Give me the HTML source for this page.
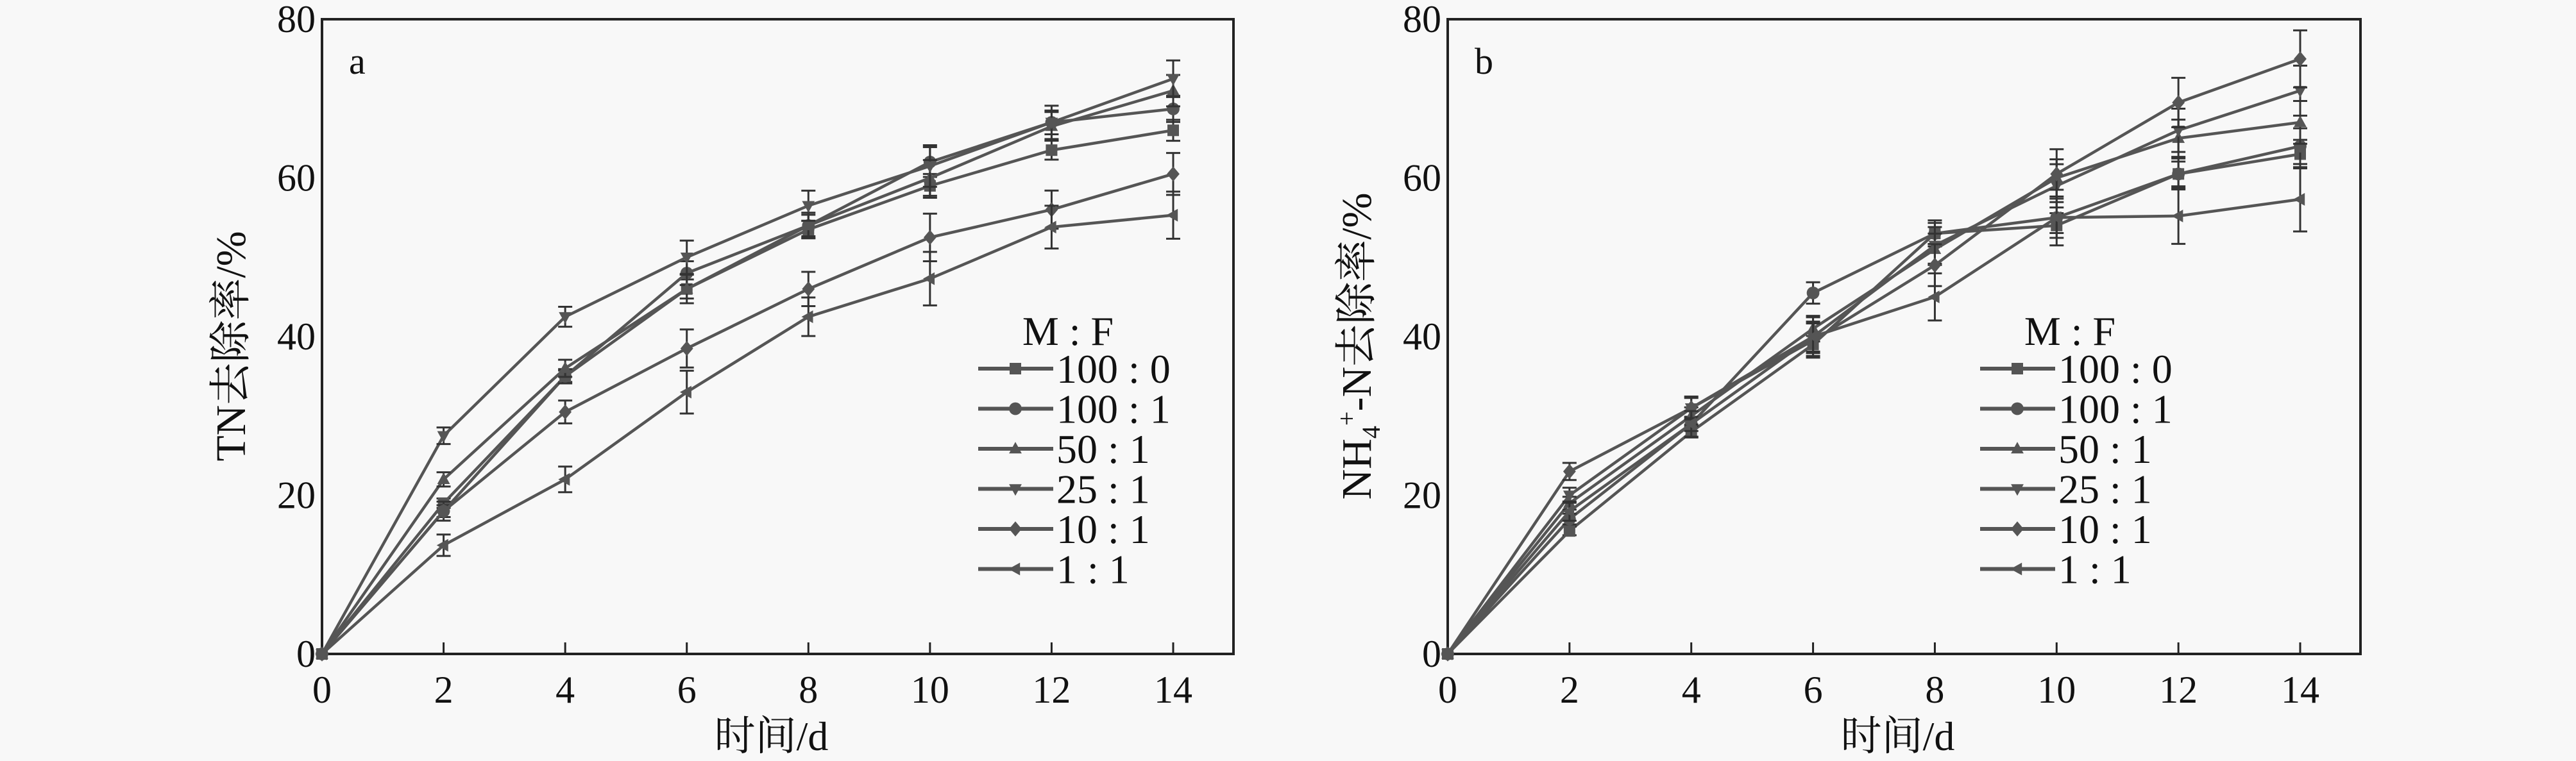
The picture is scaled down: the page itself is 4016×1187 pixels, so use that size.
<!DOCTYPE html>
<html><head><meta charset="utf-8"><style>
html,body{margin:0;padding:0;background:#f8f8f8;}
svg{display:block;}
text{font-family:"Liberation Serif","Noto Serif CJK SC",serif;fill:#111;}
</style></head><body>
<svg id="chart" width="4016" height="1187" viewBox="0 0 4016 1187" xmlns="http://www.w3.org/2000/svg">
<rect width="4016" height="1187" fill="#f8f8f8"/>
<g id="pa"></g>
<g id="pb"></g>
</svg>
<script>
const days = [0, 2, 4, 6, 8, 10, 12, 14];
const seriesNames = ["100:0", "100:1", "50:1", "25:1", "10:1", "1:1"];
const legendLabels = ["100 : 0", "100 : 1", "50 : 1", "25 : 1", "10 : 1", "1 : 1"];
const markers = ["square", "circle", "up", "down", "diamond", "left"];
const xTicks = [0, 2, 4, 6, 8, 10, 12, 14];
const yTicks = [0, 20, 40, 60, 80];
// Panel a: TN removal
const tn_100_0 = [0, 19, 35, 46, 53.5, 59, 63.5, 66];
const tn_100_1 = [0, 18, 35, 48, 54, 62, 67, 68.7];
const tn_50_1 = [0, 22, 36, 46, 54, 60, 66.5, 71];
const tn_25_1 = [0, 27.5, 42.5, 50, 56.5, 61.5, 67, 72.5];
const tn_10_1 = [0, 18, 30.5, 38.5, 46, 52.5, 56, 60.5];
const tn_1_1 = [0, 13.7, 22, 33, 42.5, 47.3, 53.8, 55.3];
const tnErr = [0, 1, 1.2, 2, 1.8, 2.5, 2, 2.2];
// Panel b: NH4+-N removal
const nh_100_0 = [0, 15.5, 28, 39, 53, 54, 60.5, 63];
const nh_100_1 = [0, 17, 29, 45.5, 53, 55, 60.5, 64];
const nh_50_1 = [0, 19, 30, 41, 51, 60, 65, 67];
const nh_25_1 = [0, 20, 31, 40, 51.5, 59, 66, 71];
const nh_10_1 = [0, 23, 31, 39.5, 49, 60.5, 69.5, 75];
const nh_1_1 = [0, 18, 29, 40, 45, 55, 55.2, 57.3];
const nhErr = [0, 0.9, 1.2, 1.8, 2.2, 2.6, 2.6, 3];

const NS = "http://www.w3.org/2000/svg";
function mk(parent, tag, attrs, txt) {
  const e = document.createElementNS(NS, tag);
  for (const k in attrs) e.setAttribute(k, attrs[k]);
  if (txt !== undefined) e.textContent = txt;
  parent.appendChild(e);
  return e;
}
function marker(g, type, cx, cy, s, col) {
  let el;
  if (type === "square") el = mk(g, "rect", {x: cx - s, y: cy - s, width: 2 * s, height: 2 * s, fill: col});
  else if (type === "circle") el = mk(g, "circle", {cx: cx, cy: cy, r: s * 1.1, fill: col});
  else {
    let p;
    if (type === "up") p = [[cx, cy - s * 1.2], [cx + s * 1.1, cy + s * 0.8], [cx - s * 1.1, cy + s * 0.8]];
    else if (type === "down") p = [[cx, cy + s * 1.2], [cx + s * 1.1, cy - s * 0.8], [cx - s * 1.1, cy - s * 0.8]];
    else if (type === "diamond") p = [[cx, cy - s * 1.3], [cx + s * 1.1, cy], [cx, cy + s * 1.3], [cx - s * 1.1, cy]];
    else p = [[cx - s * 1.2, cy], [cx + s * 0.8, cy - s * 1.1], [cx + s * 0.8, cy + s * 1.1]];
    el = mk(g, "polygon", {points: p.map(q => q.join(",")).join(" "), fill: col});
  }
  return el;
}

function panel(gid, L, R, x14, series, err, letter, ytitle, isB) {
  const g = document.getElementById(gid);
  const T = 30, B = 1020;
  const xs = v => L + v / 14 * (x14 - L);
  const ys = v => B - v / 80 * (B - T);
  const col = "#555";
  const frame = mk(g, "rect", {x: L, y: T, width: R - L, height: B - T, fill: "none", stroke: "#222", "stroke-width": 4});
  
  
  xTicks.forEach(t => {
    const tk = mk(g, "line", {x1: xs(t), x2: xs(t), y1: B, y2: B - 18, stroke: "#222", "stroke-width": 3});
    
    
    const lb = mk(g, "text", {x: xs(t), y: 1096, "font-size": 60, "text-anchor": "middle"}, String(t));
    
    
  });
  yTicks.forEach(t => {
    const lb = mk(g, "text", {x: L - 10, y: ys(t) + 20, "font-size": 60, "text-anchor": "end"}, String(t));
    
    
  });
  const xt = mk(g, "text", {x: (L + R) / 2 - 10, y: 1170, "font-size": 64, "text-anchor": "middle"}, "时间/d");
  
  
  const yt = mk(g, "text", {x: 0, y: 0, "font-size": 66, "text-anchor": "middle", transform: "translate(" + (L - 120) + ",540) rotate(-90)"});
  
  
  if (isB) {
    mk(yt, "tspan", {}, "NH");
    mk(yt, "tspan", {"font-size": 40, dy: 14}, "4");
    mk(yt, "tspan", {"font-size": 40, dy: -38}, "+");
    mk(yt, "tspan", {dy: 24}, "-N去除率/%");
  } else {
    yt.textContent = ytitle;
  }
  const lt = mk(g, "text", {x: L + 42, y: 115, "font-size": 58}, letter);
  
  

  series.forEach((d, i) => {
    const sg = mk(g, "g", {});
    
    
    const pts = d.map((v, j) => xs(days[j]) + "," + ys(v)).join(" ");
    const ln = mk(sg, "polyline", {points: pts, fill: "none", stroke: col, "stroke-width": 4.5});
    
    
    d.forEach((v, j) => {
      if (j > 0) {
        const e = err[j] * (0.6 + 0.15 * i);
        const eb = mk(sg, "path", {d: "M" + xs(days[j]) + "," + ys(v - e) + "V" + ys(v + e) + "M" + (xs(days[j]) - 11) + "," + ys(v - e) + "h22M" + (xs(days[j]) - 11) + "," + ys(v + e) + "h22", stroke: "#333", "stroke-width": 3, fill: "none"});
        
        
      }
      const m = marker(sg, markers[i], xs(days[j]), ys(v), 9, col);
      
      
    });
  });

  const lg = mk(g, "g", {});
  
  
  const lx = isB ? L + 830 : L + 1023;
  const ttl = mk(lg, "text", {x: lx + 140, y: 538, "font-size": 64, "text-anchor": "middle"}, "M : F");
  
  
  seriesNames.forEach((n, i) => {
    const y = 575 + i * 62.5;
    const eg = mk(lg, "g", {});
    
    
    mk(eg, "line", {x1: lx, x2: lx + 117, y1: y, y2: y, stroke: col, "stroke-width": 6});
    marker(eg, markers[i], lx + 58, y, 9, col);
    mk(eg, "text", {x: lx + 122, y: y + 22, "font-size": 64}, legendLabels[i]);
  });
}
panel("pa", 502, 1923, 1829, [tn_100_0, tn_100_1, tn_50_1, tn_25_1, tn_10_1, tn_1_1], tnErr, "a", "TN去除率/%", false);
panel("pb", 2257, 3680, 3586, [nh_100_0, nh_100_1, nh_50_1, nh_25_1, nh_10_1, nh_1_1], nhErr, "b", "", true);
</script>
</body></html>
